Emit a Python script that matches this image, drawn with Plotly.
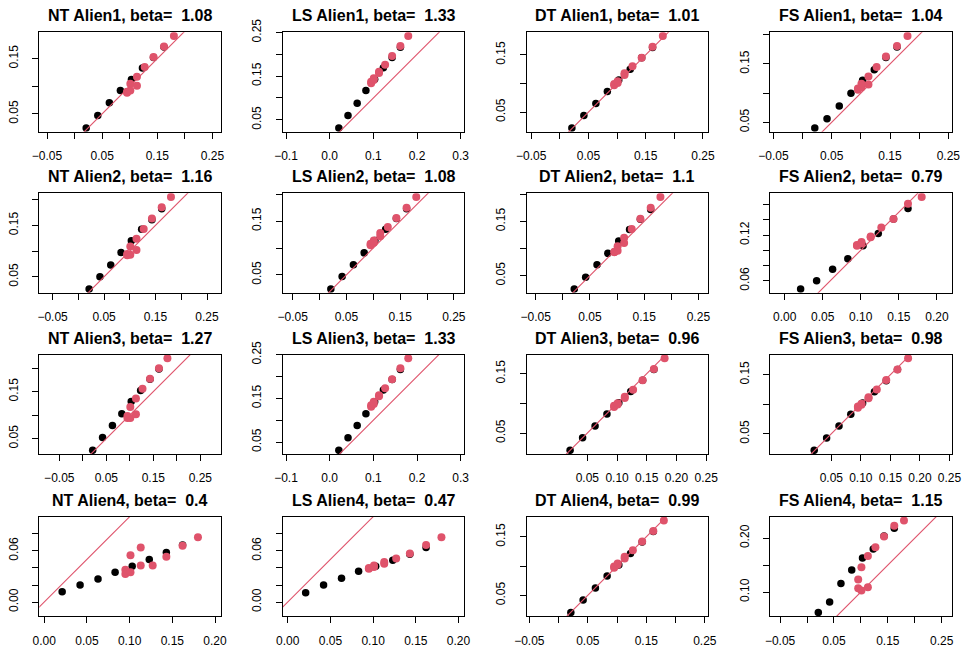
import plotly.graph_objects as go

W, H = 963, 647

titles = ["NT Alien1, beta=  1.08", "LS Alien1, beta=  1.33", "DT Alien1, beta=  1.01", "FS Alien1, beta=  1.04",
          "NT Alien2, beta=  1.16", "LS Alien2, beta=  1.08", "DT Alien2, beta=  1.1", "FS Alien2, beta=  0.79",
          "NT Alien3, beta=  1.27", "LS Alien3, beta=  1.33", "DT Alien3, beta=  0.96", "FS Alien3, beta=  0.98",
          "NT Alien4, beta=  0.4", "LS Alien4, beta=  0.47", "DT Alien4, beta=  0.99", "FS Alien4, beta=  1.15"]

x_black = [0.021, 0.042, 0.063, 0.083, 0.103, 0.123, 0.143, 0.162]
x_red = [0.095, 0.095, 0.101, 0.101, 0.113, 0.113, 0.127, 0.143, 0.162, 0.180]

nt1_black = [0.024, 0.047, 0.070, 0.092, 0.112, 0.133, 0.152, 0.171]
nt1_red = [0.088, 0.090, 0.092, 0.1045, 0.101, 0.117, 0.135, 0.153, 0.172, 0.191]
ls1_black = [0.031, 0.060, 0.088, 0.117, 0.143, 0.169, 0.193, 0.216]
ls1_red = [0.134, 0.137, 0.141, 0.145, 0.157, 0.160, 0.176, 0.196, 0.219, 0.242]
dt1_black = [0.022, 0.044, 0.065, 0.086, 0.106, 0.125, 0.145, 0.163]
dt1_red = [0.097, 0.099, 0.101, 0.104, 0.115, 0.118, 0.130, 0.145, 0.164, 0.183]
fs1_black = [0.040, 0.056, 0.078, 0.100, 0.122, 0.140, 0.161, 0.179]
fs1_red = [0.106, 0.108, 0.110, 0.116, 0.115, 0.1285, 0.145, 0.163, 0.181, 0.198]

nt2_black = [0.026, 0.050, 0.073, 0.097, 0.120, 0.1425, 0.161, 0.182]
nt2_red = [0.094, 0.092, 0.093, 0.109, 0.102, 0.124, 0.143, 0.163, 0.185, 0.205]
ls2_black = [0.0235, 0.047, 0.069, 0.091, 0.114, 0.135, 0.155, 0.173]
ls2_red = [0.105, 0.108, 0.110, 0.114, 0.122, 0.128, 0.139, 0.156, 0.175, 0.195]
dt2_black = [0.025, 0.047, 0.070, 0.091, 0.114, 0.135, 0.154, 0.172]
dt2_red = [0.093, 0.094, 0.096, 0.104, 0.110, 0.120, 0.136, 0.155, 0.175, 0.195]
fs2_black = [0.049, 0.060, 0.075, 0.089, 0.106, 0.122, 0.141, 0.155]
fs2_red = [0.106, 0.107, 0.111, 0.109, 0.117, 0.118, 0.130, 0.141, 0.161, 0.170]

nt3_black = [0.025, 0.052, 0.078, 0.103, 0.129, 0.152, 0.176, 0.198]
nt3_red = [0.098, 0.094, 0.117, 0.094, 0.1015, 0.135, 0.156, 0.177, 0.1995, 0.221]
ls3_black = [0.031, 0.060, 0.088, 0.115, 0.142, 0.169, 0.193, 0.216]
ls3_red = [0.131, 0.134, 0.137, 0.142, 0.155, 0.157, 0.173, 0.194, 0.219, 0.242]
dt3_black = [0.021, 0.042, 0.062, 0.082, 0.101, 0.120, 0.139, 0.157]
dt3_red = [0.094, 0.096, 0.098, 0.100, 0.109, 0.111, 0.123, 0.139, 0.158, 0.176]
fs3_black = [0.022, 0.043, 0.063, 0.083, 0.102, 0.121, 0.140, 0.159]
fs3_red = [0.094, 0.096, 0.099, 0.101, 0.110, 0.112, 0.125, 0.141, 0.159, 0.178]

nt4_black = [0.012, 0.020, 0.027, 0.035, 0.042, 0.050, 0.058, 0.067]
nt4_red = [0.038, 0.033, 0.055, 0.035, 0.043, 0.064, 0.043, 0.053, 0.066, 0.076]
ls4_black = [0.011, 0.020, 0.028, 0.036, 0.042, 0.049, 0.056, 0.064]
ls4_red = [0.039, 0.040, 0.041, 0.043, 0.045, 0.047, 0.051, 0.057, 0.067, 0.076]
dt4_black = [0.0205, 0.042, 0.0625, 0.083, 0.1017, 0.1216, 0.141, 0.159]
dt4_red = [0.097, 0.099, 0.102, 0.1045, 0.113, 0.116, 0.127, 0.142, 0.160, 0.178]
fs4_black = [0.062, 0.0815, 0.116, 0.141, 0.163, 0.180, 0.204, 0.2185]
fs4_red = [0.1235, 0.107, 0.103, 0.146, 0.109, 0.167, 0.183, 0.203, 0.223, 0.233]

black_sets = [nt1_black, ls1_black, dt1_black, fs1_black, nt2_black, ls2_black, dt2_black, fs2_black,
              nt3_black, ls3_black, dt3_black, fs3_black, nt4_black, ls4_black, dt4_black, fs4_black]
red_sets = [nt1_red, ls1_red, dt1_red, fs1_red, nt2_red, ls2_red, dt2_red, fs2_red,
            nt3_red, ls3_red, dt3_red, fs3_red, nt4_red, ls4_red, dt4_red, fs4_red]

# explicit y-limits for panels whose plotting window is wider than their points
ylim_override = {12: [-0.0165, 0.100], 13: [-0.0165, 0.100]}

M = "\u2212"
# tick definitions
xt_a = [-0.05, 0.0, 0.05, 0.10, 0.15, 0.20, 0.25]
xl_a = [M + "0.05", "", "0.05", "", "0.15", "", "0.25"]
xt_b = [-0.1, 0.0, 0.1, 0.2, 0.3]
xl_b = [M + "0.1", "0.0", "0.1", "0.2", "0.3"]
xt_c = [0.0, 0.05, 0.10, 0.15, 0.20]
xl_c = ["0.00", "0.05", "0.10", "0.15", "0.20"]
xt_d = [0.05, 0.10, 0.15, 0.20, 0.25]
xl_d = ["0.05", "0.10", "0.15", "0.20", "0.25"]

yt_a = [0.05, 0.10, 0.15, 0.20]
yl_a = ["0.05", "", "0.15", ""]
yt_b = [0.05, 0.10, 0.15, 0.20, 0.25]
yl_b = ["0.05", "", "0.15", "", "0.25"]
yt_c = [0.06, 0.08, 0.10, 0.12, 0.14, 0.16]
yl_c = ["0.06", "", "", "0.12", "", ""]
yt_d = [0.00, 0.02, 0.04, 0.06, 0.08]
yl_d = ["0.00", "", "", "0.06", ""]
yt_e = [0.10, 0.15, 0.20]
yl_e = ["0.10", "", "0.20"]

x_ticks = [(xt_a, xl_a), (xt_b, xl_b), (xt_a, xl_a), (xt_a, xl_a),
           (xt_a, xl_a), (xt_a, xl_a), (xt_a, xl_a), (xt_c, xl_c),
           (xt_a, xl_a), (xt_b, xl_b), (xt_d, xl_d), (xt_d, xl_d),
           (xt_c, xl_c), (xt_c, xl_c), (xt_a, xl_a), (xt_a, xl_a)]
y_ticks = [(yt_a, yl_a), (yt_b, yl_b), (yt_a, yl_a), (yt_a, yl_a),
           (yt_a, yl_a), (yt_a, yl_a), (yt_a, yl_a), (yt_c, yl_c),
           (yt_a, yl_a), (yt_b, yl_b), (yt_a, yl_a), (yt_a, yl_a),
           (yt_d, yl_d), (yt_d, yl_d), (yt_a, yl_a), (yt_e, yl_e)]

RED = "#DF536B"
FONT = "Liberation Sans, Arial, Helvetica, sans-serif"

# plot-box positions in page pixels
lefts = [39.3, 282.8, 526.6, 770.4]
tops = [32.3, 193.3, 354.5, 516.7]
BW, BH = 181.5, 99.5

fig = go.Figure()
annotations = []
layout_axes = {}

for i in range(16):
    r, c = divmod(i, 4)
    xb, yb = black_sets[i], red_sets[i]
    allx = x_black + x_red
    ally = xb + yb
    x0, x1 = min(allx), max(allx)
    if i in ylim_override:
        y0, y1 = ylim_override[i]
        sy = y1 - y0
        sx = sy * BW / BH
        cy = (y0 + y1) / 2
    else:
        y0, y1 = min(ally), max(ally)
        sx, sy = (x1 - x0) * 1.08, (y1 - y0) * 1.08
        cy = (y0 + y1) / 2
        if sx / BW > sy / BH:
            sy = sx * BH / BW
        else:
            sx = sy * BW / BH
    cx = (x0 + x1) / 2
    xr = [cx - sx / 2, cx + sx / 2]
    yr = [cy - sy / 2, cy + sy / 2]

    sfx = "" if i == 0 else str(i + 1)
    xa, ya = "x" + sfx, "y" + sfx
    left, top = lefts[c], tops[r]
    dx = [left / W, (left + BW) / W]
    dy = [1 - (top + BH) / H, 1 - top / H]
    common = dict(showline=True, mirror=True, linecolor="black", linewidth=1,
                  ticks="outside", ticklen=6, tickwidth=1, tickcolor="black",
                  showgrid=False, zeroline=False, automargin=False,
                  tickfont=dict(family=FONT, size=12, color="black"))
    layout_axes["xaxis" + sfx] = dict(common, domain=dx, range=xr, anchor=ya,
                                      tickvals=x_ticks[i][0], ticktext=x_ticks[i][1],
                                      tickangle=0, ticklabelstandoff=7)
    layout_axes["yaxis" + sfx] = dict(common, domain=dy, range=yr, anchor=xa,
                                      tickvals=y_ticks[i][0], ticktext=y_ticks[i][1],
                                      tickangle=-90, ticklabelstandoff=10)

    fig.add_trace(go.Scatter(x=x_black, y=xb, mode="markers", xaxis=xa, yaxis=ya,
                             marker=dict(color="black", size=7.5, line=dict(width=0)),
                             showlegend=False, hoverinfo="skip"))
    fig.add_trace(go.Scatter(x=x_red, y=yb, mode="markers", xaxis=xa, yaxis=ya,
                             marker=dict(color=RED, size=8, line=dict(width=0)),
                             showlegend=False, hoverinfo="skip"))
    lo = min(xr[0], yr[0])
    hi = max(xr[1], yr[1])
    fig.add_trace(go.Scatter(x=[lo, hi], y=[lo, hi], mode="lines", xaxis=xa, yaxis=ya,
                             line=dict(color=RED, width=1.1), opacity=1,
                             showlegend=False, hoverinfo="skip"))

    annotations.append(dict(text="<b>" + titles[i].replace("  ", " \u00a0") + "</b>",
                            x=(left + BW / 2) / W, y=1 - (top - 16.5) / H,
                            xref="paper", yref="paper",
                            xanchor="center", yanchor="middle", showarrow=False,
                            font=dict(family=FONT, size=16, color="black")))

fig.update_layout(width=W, height=H, margin=dict(l=0, r=0, t=0, b=0),
                  plot_bgcolor="white", paper_bgcolor="white", hovermode=False,
                  annotations=annotations, **layout_axes)

fig.write_html("out.html", config={"displayModeBar": False},
               post_script="document.body.style.margin='0';document.body.style.overflow='hidden';")
